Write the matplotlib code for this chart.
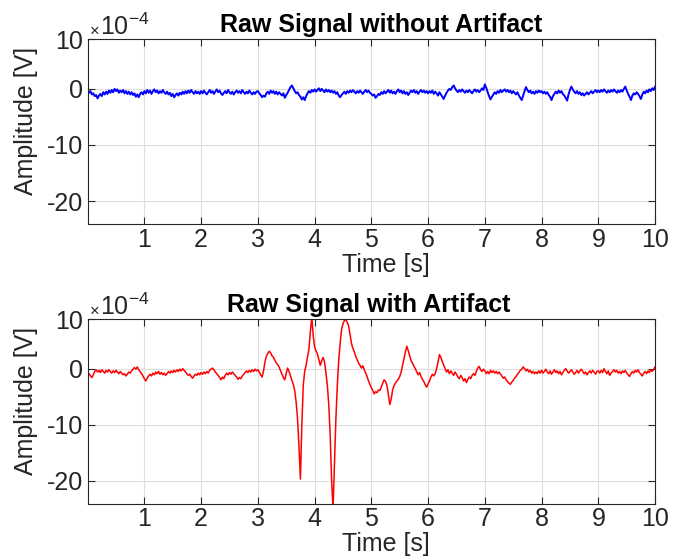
import numpy as np
import matplotlib.pyplot as plt

plt.rcParams['font.family'] = ['Liberation Sans', 'DejaVu Sans']
plt.rcParams['mathtext.fontset'] = 'custom'
plt.rcParams['mathtext.rm'] = 'Liberation Sans'
plt.rcParams['mathtext.it'] = 'Liberation Sans'

# samples every 0.025 s, amplitude in units of 1e-4 V
dt = 0.025

clean = np.array([
    -0.2, -0.7, -0.4, -1.0, -0.8, -1.3, -1.1, -1.7, -1.2, -0.9,
    -1.3, -0.6, -1.0, -0.5, -0.9, -0.3, -0.7, -0.2, -0.6, 0.0,
    -0.4, -0.1, -0.7, -0.3, -0.6, -0.2, -0.8, -0.4, -0.9, -0.5,
    -1.0, -0.6, -1.1, -0.8, -1.4, -1.0, -1.5, -0.9, -0.6, -1.0,
    -0.4, -0.8, -0.2, -0.7, -0.3, -0.9, -0.4, -0.1, -0.6, -0.3,
    -0.8, -0.4, -0.7, -0.2, -0.6, -0.9, -0.5, -1.0, -0.7, -1.3,
    -0.9, -1.5, -1.1, -0.8, -1.2, -0.7, -1.0, -0.5, -0.9, -0.4,
    -0.8, -0.3, -0.7, -0.2, -0.6, -0.9, -0.4, -0.8, -0.5, -0.9,
    -0.4, -0.8, -0.3, -0.7, -1.0, -0.6, -0.2, -0.7, -0.4, -0.9,
    -0.5, -0.1, -0.6, -0.3, -0.8, -1.1, -0.7, -0.4, -0.8, -0.2,
    -0.6, -0.9, -0.5, -1.0, -0.6, -0.3, -0.7, -0.4, -0.8, -0.2,
    -0.6, -0.9, -0.5, -0.8, -0.3, -0.7, -1.0, -0.6, -0.9, -0.5,
    -0.4, -0.8, -1.1, -1.5, -1.2, -1.4, -0.8, -0.5, -0.9, -0.3,
    -0.7, -0.4, -0.9, -0.5, -1.0, -0.6, -0.9, -1.2, -0.8, -1.6,
    -1.1, -0.7, -0.2, 0.3, 0.6, 0.1, -0.4, -0.8, -0.6, -1.1,
    -1.4, -1.9, -1.5, -2.0, -1.3, -0.8, -0.4, -0.7, -0.2, -0.5,
    -0.1, -0.5, -0.2, 0.1, -0.4, 0.0, -0.3, -0.6, -0.1, -0.5,
    -0.2, -0.6, -0.3, -0.7, -0.4, -0.9, -0.6, -1.2, -1.5, -1.1,
    -0.8, -0.5, -0.9, -0.4, -0.7, -0.3, -0.6, -0.2, -0.5, -0.8,
    -0.4, -0.7, -0.3, -0.6, -0.9, -0.5, -0.2, -0.6, -0.3, -0.7,
    -0.9, -1.2, -1.0, -1.6, -1.3, -0.9, -1.1, -0.6, -0.9, -0.4,
    -0.8, -0.5, -0.2, -0.7, -0.3, -0.8, -0.5, -0.9, -0.4, -0.1,
    -0.6, -0.3, -0.8, -0.4, -0.9, -0.6, -1.1, -0.7, -0.3, -0.6,
    -0.2, -0.7, -0.4, -0.9, -0.5, -0.2, -0.6, -0.3, -0.7, -0.4,
    -0.8, -0.4, -0.7, -0.3, -0.9, -0.5, -0.8, -1.2, -0.6, -1.0,
    -1.4, -1.8, -1.2, -0.7, -0.3, 0.0, -0.2, 0.3, 0.6, 0.1,
    -0.3, -0.6, -0.2, -0.5, -0.1, -0.4, -0.7, -0.3, -0.6, -0.2,
    -0.5, -0.8, -0.4, -0.1, -0.5, -0.2, -0.6, -0.3, 0.1, -0.2,
    0.8, 0.2, -0.6, -1.3, -1.9, -1.4, -1.0, -0.6, -0.9, -0.4,
    -0.7, -0.2, -0.6, -0.3, -0.1, -0.5, -0.2, -0.6, -0.3, -0.8,
    -0.4, -0.7, -1.0, -0.6, -1.2, -1.6, -2.0, -1.2, -0.4, 0.3,
    -0.2, -0.6, -0.3, -0.8, -0.5, -0.9, -0.4, -0.7, -0.3, -0.6,
    -0.4, -0.8, -0.5, -0.9, -0.6, -1.1, -1.4, -2.0, -1.3, -0.9,
    -0.5, -0.8, -0.3, -0.7, -0.4, -0.9, -1.2, -1.6, -2.1, -1.0,
    -0.2, 0.4, -0.1, -0.5, -0.8, -0.4, -0.9, -0.6, -1.1, -0.8,
    -1.2, -0.9, -0.6, -1.0, -0.7, -0.4, -0.8, -0.5, -0.2, -0.6,
    -0.3, -0.6, -0.2, -0.5, -0.1, -0.4, -0.7, -0.3, -0.6, -0.2,
    -0.5, -0.1, -0.4, -0.7, -0.3, -0.6, -0.2, -0.5, 0.0, 0.4,
    -0.3, -0.9, -1.4, -2.0, -1.2, -0.8, -1.0, -0.6, -0.9, -1.3,
    -1.8, -1.0, -0.5, -0.8, -0.3, -0.6, -0.1, -0.4, 0.1, -0.2,
    0.4,
])

artifact = np.array([
    -0.6, -0.9, -1.3, -1.6, -1.1, -0.5, -0.2, -0.6, -0.3, -0.7,
    -0.2, -0.5, -0.8, -0.3, -0.6, -0.2, -0.5, -0.8, -0.4, -0.7,
    -0.3, -0.6, -0.9, -0.5, -0.8, -1.1, -0.9, -1.3, -1.0, -0.6,
    -0.8, -0.4, -0.1, 0.2, -0.1, 0.3, -0.2, -0.5, -0.9, -1.3,
    -1.8, -2.2, -1.7, -1.3, -1.0, -1.3, -0.8, -1.1, -0.6, -0.9,
    -0.5, -1.0, -0.7, -1.1, -0.8, -1.2, -0.9, -0.5, -0.8, -0.4,
    -0.7, -0.3, -0.6, -0.2, -0.5, -0.1, -0.4, 0.0, -0.3, -0.6,
    -0.9, -1.2, -1.0, -1.4, -1.7, -1.3, -1.0, -1.2, -0.8, -1.1,
    -0.7, -1.0, -0.6, -0.9, -0.5, -0.8, -0.3, -0.1, 0.1, -0.2,
    -0.6, -0.9, -1.2, -1.6, -2.0, -1.5, -1.8, -1.2, -0.8, -1.1,
    -0.7, -1.0, -0.6, -0.9, -1.2, -1.5, -1.9, -1.6, -1.8, -1.3,
    -1.0, -0.7, -0.4, -0.7, -0.3, -0.6, -0.2, -0.5, -0.1, -0.4,
    -0.2, -0.6, -1.1, -1.5, -0.4, 1.2, 2.2, 2.7, 3.1, 2.8,
    2.3, 2.0, 1.5, 1.0, 0.7, 0.3, -0.4, -1.0, -1.6, -2.0,
    -0.8, 0.1, -0.5, -1.3, -2.1, -2.8, -4.0, -6.0, -9.0, -14.0,
    -19.7, -10.0, -3.0, -0.5, 0.6, 2.0, 3.5, 6.5, 9.2, 6.0,
    3.8, 3.2, 2.6, 1.6, 0.6, 1.4, 2.0, 1.2, -0.8, -3.0,
    -6.5, -12.0, -20.0, -25.0, -17.0, -9.0, -3.0, 1.5, 4.5, 7.0,
    8.0, 8.6, 8.7, 8.3, 7.6, 6.0, 4.5, 3.6, 3.0, 2.2,
    1.6, 1.0, 0.6, 0.1, 0.5, -0.2, -0.8, -1.4, -2.2, -2.8,
    -3.4, -3.9, -4.5, -4.1, -4.3, -3.8, -3.9, -3.3, -2.6, -2.0,
    -2.3, -3.0, -4.6, -6.4, -5.4, -3.8, -3.0, -2.6, -2.2, -1.9,
    -1.4, -0.6, 0.6, 1.8, 3.0, 4.0, 3.2, 2.3, 1.4, 1.0,
    0.4, 0.0, -0.6, -1.1, -0.7, -1.4, -1.9, -2.3, -2.9, -3.3,
    -2.7, -2.2, -1.5, -1.0, -1.3, -0.9, 0.0, 1.2, 2.5, 2.0,
    1.3, 0.6, 0.0, -0.6, -0.2, -0.9, -0.4, -0.8, -1.2, -0.6,
    -1.0, -1.5, -1.8, -1.2, -1.6, -2.2, -1.8, -2.5, -1.9, -1.5,
    -1.8, -1.2, -0.9, -1.2, -0.5, 0.1, 0.4, -0.2, -0.5, -0.1,
    -0.4, -0.9, -0.5, -0.9, -0.3, -0.7, -0.4, -0.8, -0.5, -0.9,
    -0.6, -1.0, -1.3, -1.7, -1.5, -2.0, -2.3, -2.6, -2.8, -2.4,
    -2.1, -1.7, -1.4, -1.0, -0.7, -0.3, -0.1, 0.3, 0.0, -0.4,
    -0.1, -0.6, -0.3, -0.8, -0.5, -0.9, -0.6, -0.9, -0.4, -0.8,
    -0.3, -0.8, -0.5, -0.1, -0.6, -0.9, -0.4, -1.0, -0.6, -0.2,
    -0.7, -0.4, -0.9, -0.5, -1.1, -0.7, -0.3, 0.0, -0.4, -0.8,
    -0.5, -0.2, -0.6, -1.0, -0.7, -0.3, -0.8, -0.4, -0.1, -0.5,
    -0.9, -0.6, -1.1, -0.7, -0.4, -0.8, -0.3, -0.6, -1.0, -0.5,
    -0.4, -0.8, -0.3, -0.7, 0.0, -0.5, -0.9, -0.4, -1.2, -0.8,
    -0.5, -0.2, -0.6, -0.3, -0.8, -0.5, -0.9, -0.4, -0.7, -0.3,
    -0.8, -1.1, -1.4, -0.9, -0.5, -0.8, -0.3, -0.6, -0.2, -0.7,
    -1.0, -1.3, -0.8, -0.5, -0.9, -0.4, -0.7, -0.2, -0.5, -0.1,
    0.3,
])

t_clean = np.arange(len(clean)) * dt
t_art = np.arange(len(artifact)) * dt

x_ticks = [1, 2, 3, 4, 5, 6, 7, 8, 9, 10]
y_ticks = [-20, -10, 0]
y_tick_labels = ['-20', '-10', '0', '10']
y_lo, y_hi = -24.1, 8.8

fig = plt.figure(figsize=(6.96, 5.56), dpi=100)
ax1 = fig.add_axes([0.1259, 0.597, 0.8153, 0.332])
ax2 = fig.add_axes([0.1259, 0.094, 0.8153, 0.3317])

ax1.plot(t_clean, clean, color='blue', linewidth=1.4)
ax2.plot(t_art, artifact, color='red', linewidth=1.1)

dark = '#262626'
for ax, title, tx in [(ax1, 'Raw Signal without Artifact', 0.517),
                      (ax2, 'Raw Signal with Artifact', 0.495)]:
    ax.set_xlim(0, 10)
    ax.set_ylim(y_lo, y_hi)
    ax.set_xticks(x_ticks)
    ax.set_yticks(y_ticks + [y_hi])
    ax.set_yticklabels(y_tick_labels)
    ax.set_axisbelow(True)
    ax.grid(True, color='#dfdfdf', linewidth=0.8)
    ax.tick_params(direction='in', top=True, right=True, length=5, width=0.8,
                   labelsize=18, colors=dark)
    ax.tick_params(axis='x', pad=2.5)
    ax.tick_params(axis='y', pad=3.5)
    for s in ax.spines.values():
        s.set_color(dark)
        s.set_linewidth(0.8)
    ax.set_title(title, fontweight='bold', fontsize=18, x=tx, pad=5.5)
    ax.set_xlabel('Time [s]', fontsize=18, color=dark)
    ax.set_ylabel('Amplitude [V]', fontsize=18, color=dark)
    ax.xaxis.set_label_coords(0.526, -0.155)
    ax.yaxis.set_label_coords(-0.087, 0.557)
    ax.text(0.0025, 1.023, r'$\times$', transform=ax.transAxes, fontsize=12,
            color=dark, va='baseline', ha='left')
    ax.text(0.021, 1.023, r'$10^{-4}$', transform=ax.transAxes, fontsize=18,
            color=dark, va='baseline', ha='left')

fig.savefig('out.png', dpi=100)
